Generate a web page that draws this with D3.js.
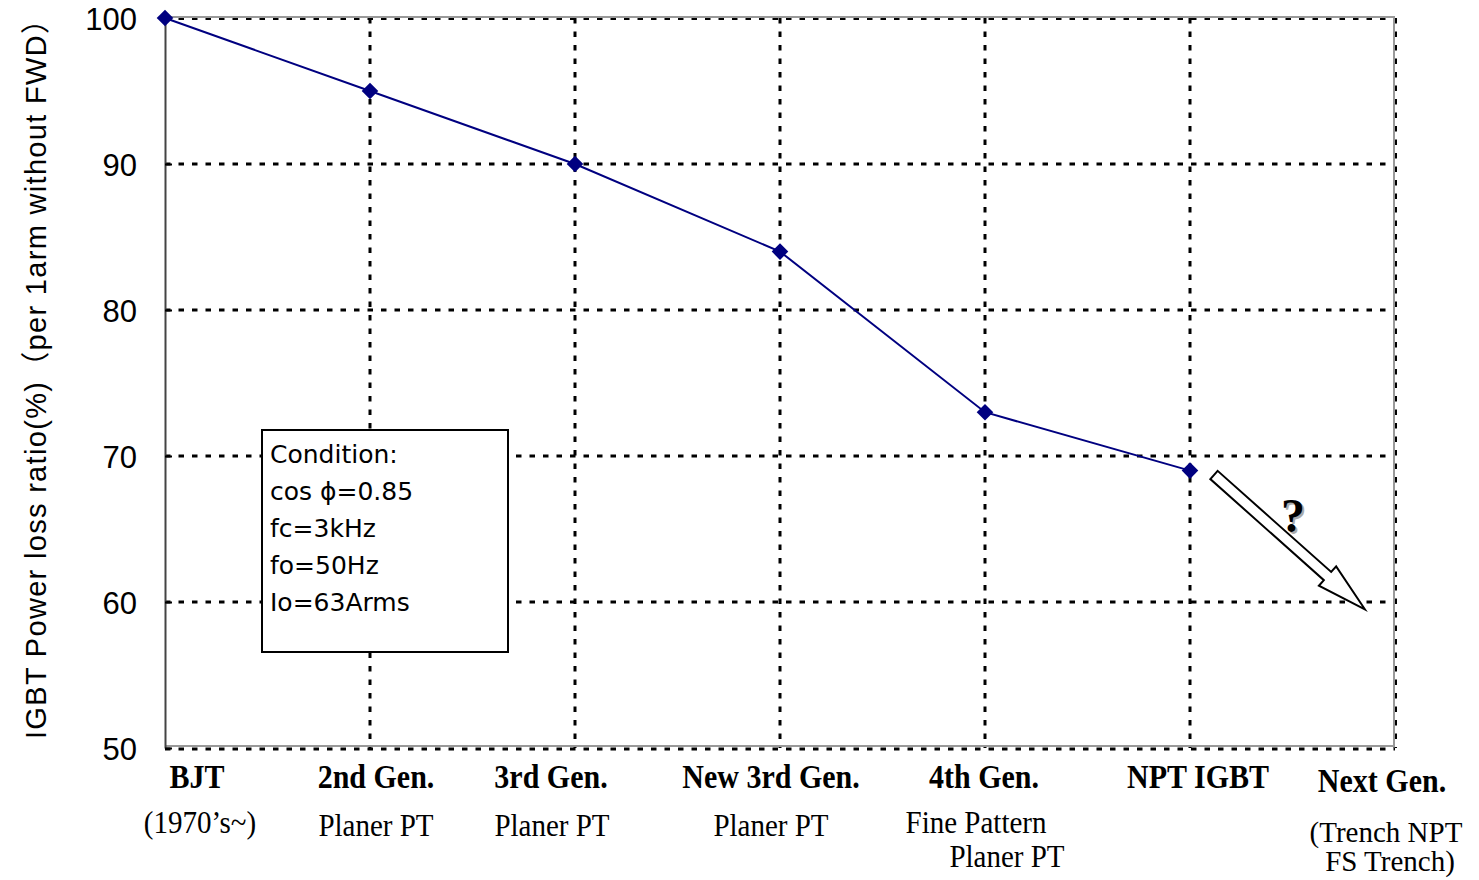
<!DOCTYPE html>
<html>
<head>
<meta charset="utf-8">
<script src="https://cdn.jsdelivr.net/npm/d3@7"></script>
<style>
  html, body { margin: 0; padding: 0; background: #fff; }
  svg { display: block; }
</style>
</head>
<body>
<svg id="chart" width="1479" height="880"></svg>
<script>
// IGBT generations and relative power loss (per 1 arm, without FWD)
const generations = ["BJT", "2nd Gen.", "3rd Gen.", "New 3rd Gen.", "4th Gen.", "NPT IGBT", "Next Gen."];
const generationNotes = [
  ["(1970’s~)"],
  ["Planer PT"],
  ["Planer PT"],
  ["Planer PT"],
  ["Fine Pattern", "Planer PT"],
  [],
  ["(Trench NPT", "FS Trench)"]
];
const lossRatio = [100, 95, 90, 84, 73, 69];
const yTicks = [50, 60, 70, 80, 90, 100];
const conditions = ["Condition:", "cos \u03D5=0.85", "fc=3kHz", "fo=50Hz", "Io=63Arms"];
const yTitle = "IGBT Power loss ratio(%)（per 1arm without FWD）";

const svg = d3.select("#chart");
const plot = { left: 165, right: 1395, top: 18, bottom: 748 };

const x = d3.scalePoint().domain(generations).range([plot.left, plot.right]);
const y = d3.scaleLinear().domain([50, 100]).range([plot.bottom, plot.top]);

const DASH = "5.5,8";

// horizontal grid lines (inner)
svg.append("g")
  .selectAll("line")
  .data(yTicks.filter(v => v > 50 && v < 100))
  .join("line")
  .attr("x1", plot.left).attr("x2", plot.right)
  .attr("y1", d => y(d)).attr("y2", d => y(d))
  .attr("stroke", "#000").attr("stroke-width", 3)
  .attr("stroke-dasharray", DASH);

// vertical grid lines
svg.append("g")
  .selectAll("line")
  .data(generations.slice(1, -1))
  .join("line")
  .attr("x1", d => x(d)).attr("x2", d => x(d))
  .attr("y1", plot.top).attr("y2", plot.bottom)
  .attr("stroke", "#000").attr("stroke-width", 3)
  .attr("stroke-dasharray", DASH);

// frame: gray solid edges with dashed overlay on top / right, dotted line under the bottom
const frame = svg.append("g");
frame.append("line")
  .attr("x1", plot.left).attr("x2", plot.right)
  .attr("y1", plot.top - 1).attr("y2", plot.top - 1)
  .attr("stroke", "#999").attr("stroke-width", 2);
frame.append("line")
  .attr("x1", plot.left).attr("x2", plot.right)
  .attr("y1", plot.top + 1).attr("y2", plot.top + 1)
  .attr("stroke", "#000").attr("stroke-width", 2)
  .attr("stroke-dasharray", DASH);
frame.append("line")
  .attr("x1", plot.right - 1).attr("x2", plot.right - 1)
  .attr("y1", plot.top - 2).attr("y2", plot.bottom)
  .attr("stroke", "#999").attr("stroke-width", 2);
frame.append("line")
  .attr("x1", plot.right + 1).attr("x2", plot.right + 1)
  .attr("y1", plot.top).attr("y2", plot.bottom)
  .attr("stroke", "#000").attr("stroke-width", 2)
  .attr("stroke-dasharray", DASH);
frame.append("line")
  .attr("x1", plot.left).attr("x2", plot.right)
  .attr("y1", plot.bottom - 2).attr("y2", plot.bottom - 2)
  .attr("stroke", "#999").attr("stroke-width", 2);
frame.append("line")
  .attr("x1", plot.left).attr("x2", plot.right)
  .attr("y1", plot.bottom + 1).attr("y2", plot.bottom + 1)
  .attr("stroke", "#000").attr("stroke-width", 3)
  .attr("stroke-dasharray", DASH);

// y axis
const yAxis = d3.axisLeft(y).tickValues(yTicks).tickSize(0).tickPadding(28);
const yAxisG = svg.append("g")
  .attr("transform", `translate(${plot.left},0)`)
  .call(yAxis);
yAxisG.select(".domain").attr("stroke", "#444").attr("stroke-width", 2);
yAxisG.selectAll(".tick text")
  .attr("font-family", "'Liberation Sans', Arial, sans-serif")
  .attr("font-size", 31)
  .attr("fill", "#000")
  .attr("dy", "0.36em");
// short tick stubs into the plot
yAxisG.selectAll(".tick").append("line")
  .attr("x1", 0).attr("x2", 7)
  .attr("stroke", "#000").attr("stroke-width", 2);

// y axis title
svg.append("text")
  .attr("transform", `translate(46,372) rotate(-90)`)
  .attr("text-anchor", "middle")
  .attr("font-family", "'Liberation Sans', 'Noto Sans CJK JP', Arial, sans-serif")
  .attr("font-size", 29)
  .attr("textLength", 734)
  .attr("lengthAdjust", "spacing")
  .attr("fill", "#000")
  .text(yTitle);

// category labels below the axis (horizontal nudges keep them where they were typeset)
const labelShift = [32, 6, -24, -9, -1, 8, -13];
const noteShift = [[35], [6], [-23], [-9], [-9, 22], [], [-9, -5]];
const noteBaselines = [[833], [836], [836], [836], [833, 867], [], [842, 871]];
const catLabels = svg.append("g")
  .attr("font-family", "'Liberation Serif', 'Times New Roman', serif")
  .attr("fill", "#000");
generations.forEach((g, i) => {
  catLabels.append("text")
    .attr("transform", `translate(${x(g) + labelShift[i]},${i === 6 ? 792 : 788}) scale(1,1.12)`)
    .attr("text-anchor", "middle")
    .attr("font-size", 30)
    .attr("font-weight", "bold")
    .text(g);
  generationNotes[i].forEach((note, j) => {
    catLabels.append("text")
      .attr("transform", `translate(${x(g) + noteShift[i][j]},${noteBaselines[i][j]}) scale(1,${i === 6 ? 1 : 1.08})`)
      .attr("text-anchor", "middle")
      .attr("font-size", 29)
      .text(note);
  });
});

// loss ratio line
const measured = generations.slice(0, lossRatio.length);
const line = d3.line()
  .x((d, i) => x(measured[i]))
  .y(d => y(d));
svg.append("path")
  .datum(lossRatio)
  .attr("d", line)
  .attr("fill", "none")
  .attr("stroke", "#000080")
  .attr("stroke-width", 2);

// diamond markers
svg.append("g")
  .selectAll("path")
  .data(lossRatio)
  .join("path")
  .attr("transform", (d, i) => `translate(${x(measured[i])},${y(d)})`)
  .attr("d", d3.symbol(d3.symbolDiamond2, 175))
  .attr("fill", "#000080");

// conditions box
const box = svg.append("g");
box.append("rect")
  .attr("x", 262).attr("y", 430)
  .attr("width", 246).attr("height", 222)
  .attr("fill", "#fff").attr("stroke", "#000").attr("stroke-width", 2);
box.selectAll("text")
  .data(conditions)
  .join("text")
  .attr("x", 270)
  .attr("y", (d, i) => 463 + i * 37)
  .attr("font-family", "'DejaVu Sans', sans-serif")
  .attr("font-size", 25)
  .attr("fill", "#000")
  .text(d => d);

// outlook arrow towards the next generation
const step = x.step();
const tail = [x("NPT IGBT") + 24, y(68.7)];
const tip = [x("NPT IGBT") + 0.853 * step, y(59.5)];
const len = Math.hypot(tip[0] - tail[0], tip[1] - tail[1]);
const ang = Math.atan2(tip[1] - tail[1], tip[0] - tail[0]) * 180 / Math.PI;
const shaftHalf = 5.5, headHalf = 13, headLen = 50;
const arrowPts = [
  [0, -shaftHalf], [len - headLen, -shaftHalf], [len - headLen, -headHalf],
  [len, 0],
  [len - headLen, headHalf], [len - headLen, shaftHalf], [0, shaftHalf]
];
svg.append("path")
  .attr("transform", `translate(${tail[0]},${tail[1]}) rotate(${ang})`)
  .attr("d", d3.line()(arrowPts) + "Z")
  .attr("fill", "#fff")
  .attr("stroke", "#000")
  .attr("stroke-width", 2)
  .attr("stroke-linejoin", "miter");

// question mark with soft shadow
const qx = 1293, qy = 532;
svg.append("text")
  .attr("x", qx + 2).attr("y", qy + 2)
  .attr("text-anchor", "middle")
  .attr("font-family", "'Liberation Serif', 'Times New Roman', serif")
  .attr("font-weight", "bold").attr("font-size", 48)
  .attr("fill", "#aaa")
  .text("?");
svg.append("text")
  .attr("x", qx).attr("y", qy)
  .attr("text-anchor", "middle")
  .attr("font-family", "'Liberation Serif', 'Times New Roman', serif")
  .attr("font-weight", "bold").attr("font-size", 48)
  .attr("fill", "#000")
  .text("?");
</script>
</body>
</html>
